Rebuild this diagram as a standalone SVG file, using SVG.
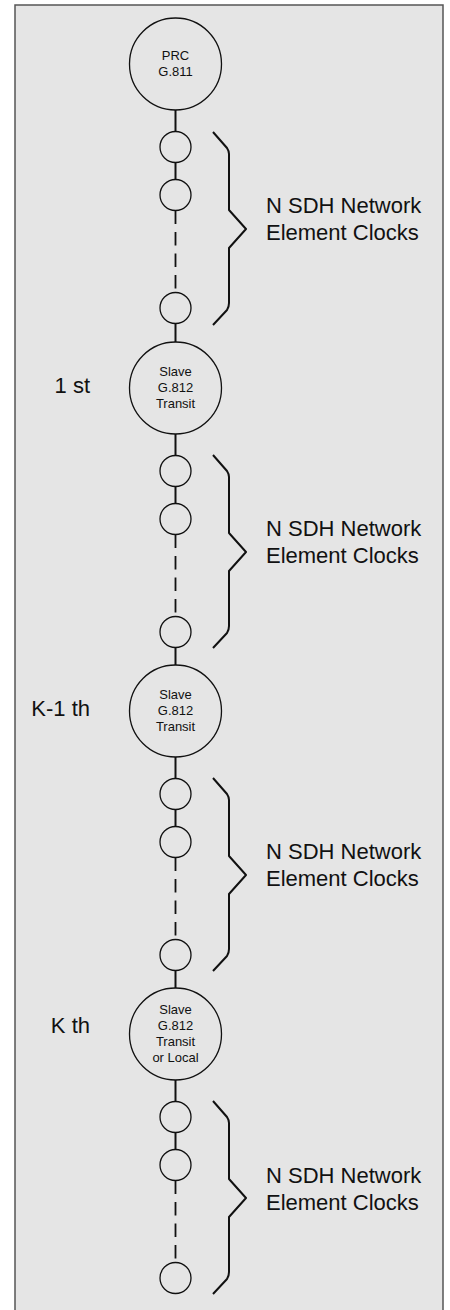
<svg xmlns="http://www.w3.org/2000/svg" xmlns:xlink="http://www.w3.org/1999/xlink" width="450" height="1310" viewBox="0 0 450 1310">
  <style>
    .frame { fill: #e5e5e5; stroke: #555; stroke-width: 1.5; }
    .big { fill: none; stroke: #111; stroke-width: 1.3; }
    .small { fill: none; stroke: #111; stroke-width: 1.3; }
    .link { stroke: #111; stroke-width: 2; fill: none; }
    .dash { stroke: #111; stroke-width: 1.8; fill: none; stroke-dasharray: 13.5 8; }
    .brace { stroke: #111; stroke-width: 2; fill: none; stroke-linejoin: round; }
    .in { font-family: "Liberation Sans", Arial, sans-serif; font-size: 13px; fill: #111; text-anchor: middle; }
    .lbl { font-family: "Liberation Sans", Arial, sans-serif; font-size: 22px; fill: #111; }
    .ord { font-family: "Liberation Sans", Arial, sans-serif; font-size: 22px; fill: #111; text-anchor: end; }
  </style>
  <defs>
    <!-- curly brace spanning one group of element clocks, drawn relative to the clock above it -->
    <path id="brace" class="brace" d="M213,68 L227,84 Q229,87 229,90 V146 L246,165 L229,184 V239 Q229,243 227,246 L213,261"/>
  </defs>

  <rect class="frame" x="15" y="5" width="428" height="1312"/>

  <!-- connectors along the synchronisation chain -->
  <g id="connectors">
    <line class="link" x1="175.5" y1="110" x2="175.5" y2="131.5"/>
    <line class="link" x1="175.5" y1="162.5" x2="175.5" y2="179.5"/>
    <line class="dash" x1="175.5" y1="210.5" x2="175.5" y2="292.5"/>
    <line class="link" x1="175.5" y1="323.5" x2="175.5" y2="342"/>

    <line class="link" x1="175.5" y1="434" x2="175.5" y2="455.5"/>
    <line class="link" x1="175.5" y1="486.5" x2="175.5" y2="503.5"/>
    <line class="dash" x1="175.5" y1="534.5" x2="175.5" y2="616.5"/>
    <line class="link" x1="175.5" y1="647.5" x2="175.5" y2="665"/>

    <line class="link" x1="175.5" y1="757" x2="175.5" y2="778.5"/>
    <line class="link" x1="175.5" y1="809.5" x2="175.5" y2="826.5"/>
    <line class="dash" x1="175.5" y1="857.5" x2="175.5" y2="939.5"/>
    <line class="link" x1="175.5" y1="970.5" x2="175.5" y2="988"/>

    <line class="link" x1="175.5" y1="1080" x2="175.5" y2="1101.5"/>
    <line class="link" x1="175.5" y1="1132.5" x2="175.5" y2="1149.5"/>
    <line class="dash" x1="175.5" y1="1180.5" x2="175.5" y2="1262.5"/>
  </g>

  <!-- primary reference clock -->
  <g id="prc">
    <circle class="big" cx="175.5" cy="64" r="46"/>
    <text class="in" x="175.5" y="59.5">PRC</text>
    <text class="in" x="175.5" y="75.5">G.811</text>
  </g>

  <g id="ne-group-1">
    <circle class="small" cx="175.5" cy="147" r="15.5"/>
    <circle class="small" cx="175.5" cy="195" r="15.5"/>
    <circle class="small" cx="175.5" cy="308" r="15.5"/>
    <use xlink:href="#brace" y="64"/>
    <text class="lbl" x="266" y="213">N SDH Network</text>
    <text class="lbl" x="266" y="240">Element Clocks</text>
  </g>

  <g id="slave-1">
    <text class="ord" x="90" y="393">1 st</text>
    <circle class="big" cx="175.5" cy="388" r="46"/>
    <text class="in" x="175.5" y="376">Slave</text>
    <text class="in" x="175.5" y="392">G.812</text>
    <text class="in" x="175.5" y="408">Transit</text>
  </g>

  <g id="ne-group-2">
    <circle class="small" cx="175.5" cy="471" r="15.5"/>
    <circle class="small" cx="175.5" cy="519" r="15.5"/>
    <circle class="small" cx="175.5" cy="632" r="15.5"/>
    <use xlink:href="#brace" y="387"/>
    <text class="lbl" x="266" y="536">N SDH Network</text>
    <text class="lbl" x="266" y="563">Element Clocks</text>
  </g>

  <g id="slave-k-1">
    <text class="ord" x="90" y="716">K-1 th</text>
    <circle class="big" cx="175.5" cy="711" r="46"/>
    <text class="in" x="175.5" y="699">Slave</text>
    <text class="in" x="175.5" y="715">G.812</text>
    <text class="in" x="175.5" y="731">Transit</text>
  </g>

  <g id="ne-group-3">
    <circle class="small" cx="175.5" cy="794" r="15.5"/>
    <circle class="small" cx="175.5" cy="842" r="15.5"/>
    <circle class="small" cx="175.5" cy="955" r="15.5"/>
    <use xlink:href="#brace" y="710"/>
    <text class="lbl" x="266" y="859">N SDH Network</text>
    <text class="lbl" x="266" y="886">Element Clocks</text>
  </g>

  <g id="slave-k">
    <text class="ord" x="90" y="1033">K th</text>
    <circle class="big" cx="175.5" cy="1034" r="46"/>
    <text class="in" x="175.5" y="1013.5">Slave</text>
    <text class="in" x="175.5" y="1029.5">G.812</text>
    <text class="in" x="175.5" y="1045.5">Transit</text>
    <text class="in" x="175.5" y="1061.5">or Local</text>
  </g>

  <g id="ne-group-4">
    <circle class="small" cx="175.5" cy="1117" r="15.5"/>
    <circle class="small" cx="175.5" cy="1165" r="15.5"/>
    <circle class="small" cx="175.5" cy="1278" r="15.5"/>
    <use xlink:href="#brace" y="1033"/>
    <text class="lbl" x="266" y="1183">N SDH Network</text>
    <text class="lbl" x="266" y="1210">Element Clocks</text>
  </g>
</svg>
